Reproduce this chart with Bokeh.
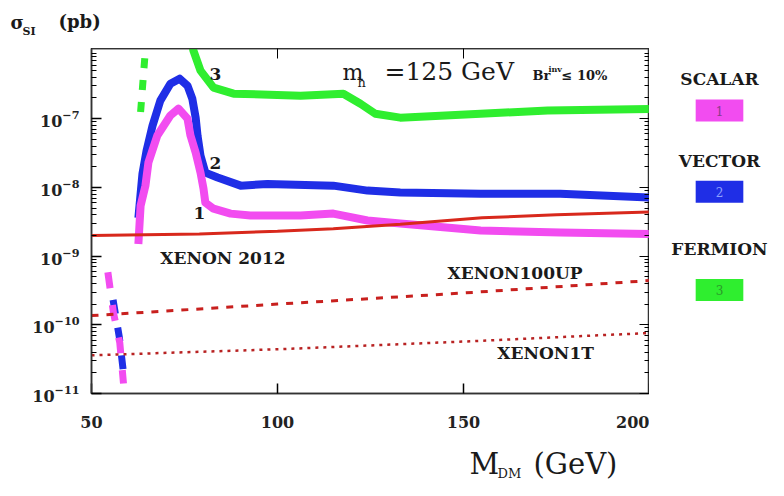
from bokeh.plotting import figure
from bokeh.models import (Range1d, FixedTicker, LinearAxis, LogAxis, Label,
                          CustomJSTickFormatter)
from bokeh.layouts import column, row
from bokeh.embed import file_html
from bokeh.resources import INLINE

# ---------------- data ----------------
x_ticks = [50, 100, 150, 200]
y_ticks = [1e-11, 1e-10, 1e-9, 1e-8, 1e-7]

scalar_mass = [62.6, 63.2, 64.5, 65.3, 67.7, 71.2, 73.4, 75.8, 76.6, 78.0, 79.3,
               80.1, 80.6, 82.8, 87.4, 92.7, 106.2, 115.0, 124.2, 133.0, 154.6, 176.0, 200.0]
scalar_sigma = [1.5e-9, 5.4e-9, 1.06e-8, 2.3e-8, 5.7e-8, 1.11e-7, 1.40e-7, 1.0e-7, 5.7e-8,
                3.2e-8, 1.64e-8, 9.6e-9, 6.0e-9, 4.9e-9, 4.15e-9, 3.9e-9, 3.9e-9, 4.15e-9,
                3.3e-9, 2.97e-9, 2.35e-9, 2.2e-9, 2.1e-9]
scalar_low_mass = [54.4, 55.9, 57.6, 58.6]
scalar_low_sigma = [5.8e-10, 1.5e-10, 5.5e-11, 1.4e-11]

vector_mass = [62.6, 63.7, 64.8, 66.4, 68.5, 71.2, 73.7, 75.8, 77.1, 78.0, 78.5, 79.3,
               80.6, 83.9, 90.1, 97.3, 115.0, 124.2, 133.0, 154.6, 176.0, 200.0]
vector_sigma = [3.6e-9, 1.58e-8, 3.43e-8, 7.9e-8, 1.83e-7, 3.23e-7, 3.82e-7, 3.02e-7,
                1.95e-7, 1.03e-7, 5.66e-8, 2.9e-8, 1.64e-8, 1.39e-8, 1.06e-8, 1.12e-8,
                1.06e-8, 8.97e-9, 8.4e-9, 8.1e-9, 8.1e-9, 7.1e-9]
vector_low_mass = [55.8, 57.5, 58.8]
vector_low_sigma = [2.3e-10, 6.5e-11, 1.6e-11]

fermion_mass = [76.6, 77.4, 79.3, 82.8, 88.2, 106.2, 117.7, 122.3, 126.3, 133.0,
                154.6, 172.6, 200.0]
fermion_sigma = [1.6e-6, 9.75e-7, 5.0e-7, 2.83e-7, 2.31e-7, 2.16e-7, 2.31e-7, 1.65e-7,
                 1.18e-7, 1.035e-7, 1.18e-7, 1.31e-7, 1.38e-7]
fermion_res_mass = [63.2, 64.6]
fermion_res_sigma = [1.25e-7, 1.2e-6]

xenon2012_mass = [50, 79, 100, 115, 133, 155, 175, 200]
xenon2012_sigma = [1.99e-9, 2.1e-9, 2.3e-9, 2.5e-9, 2.9e-9, 3.6e-9, 4.0e-9, 4.4e-9]
xenon100up_mass = [50, 100, 150, 200]
xenon100up_sigma = [1.36e-10, 2.0e-10, 2.9e-10, 4.4e-10]
xenon1t_mass = [50, 100, 150, 200]
xenon1t_sigma = [3.6e-11, 4.4e-11, 5.7e-11, 7.6e-11]

legend_names = ["SCALAR", "VECTOR", "FERMION"]
legend_numbers = ["1", "2", "3"]

# ---------------- styling ----------------
MAGENTA = "#f24cf0"
BLUE = "#1f2ee6"
GREEN = "#2fee2f"
RED = "#d8281c"
FONT = "DejaVu Serif"
INK = "#1a1a1a"

# ---------------- main plot ----------------
p = figure(frame_width=558, frame_height=345, output_backend="svg", toolbar_location=None,
           x_range=Range1d(50, 200), y_range=Range1d(1e-11, 1.05e-6),
           y_axis_type="log", title=None,
           min_border_left=91, min_border_right=0, min_border_top=0,
           min_border_bottom=55)
p.grid.visible = False
p.outline_line_color = "#333333"
p.outline_line_width = 1.5

minor_y = [m * 10.0 ** e for e in range(-11, -6) for m in range(2, 10)]

p.xaxis.ticker = FixedTicker(ticks=x_ticks, minor_ticks=[])
p.yaxis.ticker = FixedTicker(ticks=y_ticks, minor_ticks=minor_y)

for ax in (p.xaxis[0], p.yaxis[0]):
    ax.axis_line_color = "#333333"
    ax.axis_line_width = 1.5
    ax.major_tick_in = 10
    ax.major_tick_out = 0
    ax.minor_tick_in = 5
    ax.minor_tick_out = 0
    ax.major_tick_line_width = 1.5
    ax.major_label_text_font = FONT
    ax.major_label_text_font_style = "bold"
    ax.major_label_text_color = "#222222"
p.xaxis.major_label_text_font_size = "16px"
p.xaxis.major_label_standoff = 22
p.yaxis.major_label_text_font_size = "16px"
p.yaxis.major_label_standoff = 12

blank = CustomJSTickFormatter(code="return ''")
top_ax = LinearAxis(ticker=FixedTicker(ticks=x_ticks, minor_ticks=[]), formatter=blank,
                    major_tick_in=10, major_tick_out=0, minor_tick_out=0,
                    major_label_standoff=0, axis_line_color="#333333", axis_line_width=1.5)
right_ax = LogAxis(ticker=FixedTicker(ticks=y_ticks, minor_ticks=minor_y), formatter=blank,
                   major_tick_in=10, major_tick_out=0, minor_tick_in=5, minor_tick_out=0,
                   major_label_standoff=0, axis_line_color="#333333", axis_line_width=1.5)
p.add_layout(top_ax, "above")
p.add_layout(right_ax, "right")

# curves
p.line(fermion_res_mass, fermion_res_sigma, color=GREEN, line_width=7, line_dash="10 12")
p.line(fermion_mass, fermion_sigma, color=GREEN, line_width=8, line_join="round")
p.line(vector_low_mass, vector_low_sigma, color=BLUE, line_width=7, line_dash="14 14")
p.line(vector_mass, vector_sigma, color=BLUE, line_width=8, line_join="round")
p.line(scalar_low_mass, scalar_low_sigma, color=MAGENTA, line_width=7, line_dash="16 17")
p.line(scalar_mass, scalar_sigma, color=MAGENTA, line_width=8, line_join="round")

p.line(xenon2012_mass, xenon2012_sigma, color=RED, line_width=3)
p.line(xenon100up_mass, xenon100up_sigma, color="#c8201e", line_width=3, line_dash="7 8")
p.line(xenon1t_mass, xenon1t_sigma, color="#b82222", line_width=2.5, line_dash="3 5")


def dlab(fig, text, x, y, size, align="left", bold=True, color=INK, **kw):
    fig.add_layout(Label(x=x, y=y, text=text, text_font=FONT, text_font_size=f"{size}px",
                         text_font_style="bold" if bold else "normal", text_align=align,
                         text_baseline="middle", text_color=color, **kw))


# in-plot labels (data coordinates)
dlab(p, "3", 83.3, 4.4e-7, 17, "center")
dlab(p, "2", 83.3, 2.3e-8, 17, "center")
dlab(p, "1", 79.0, 4.3e-9, 17, "center")
dlab(p, "XENON 2012", 68.5, 9.5e-10, 17)
dlab(p, "XENON100UP", 145.7, 5.6e-10, 17)
dlab(p, "XENON1T", 159.1, 3.95e-11, 17)


# frame-relative screen labels inside the plot frame
def slab(text, X, Y, size, align="left", bold=False):
    p.add_layout(Label(x=X - 91, y=393 - Y, x_units="screen", y_units="screen",
                       text=text, text_font=FONT, text_font_size=f"{size}px",
                       text_font_style="bold" if bold else "normal", text_align=align,
                       text_baseline="middle", text_color=INK))


slab("m", 342, 72, 22)
slab("h", 357, 82, 13)
slab("=125 GeV", 384, 71, 25)
slab("Br", 532, 75, 13, bold=True)
slab("inv", 548, 68, 8, bold=True)
slab("≤ 10%", 561, 75, 13, bold=True)


# ---------------- decoration panels (axis titles, legend) ----------------
def deco(w, h, x0, y0):
    f = figure(width=w, height=h, x_range=Range1d(x0, x0 + w), y_range=Range1d(y0 + h, y0),
               x_axis_location=None, y_axis_location=None, toolbar_location=None,
               output_backend="svg", min_border=0, title=None)
    f.grid.visible = False
    f.outline_line_color = None
    return f


top = deco(768, 48, 0, 0)
dlab(top, "σ", 10, 22, 18)
dlab(top, "SI", 22, 31, 11)
dlab(top, "(pb)", 58, 21, 18)

leg = deco(119, 400, 649, 48)
legend_colors = [MAGENTA, BLUE, GREEN]
legend_num_colors = ["#8a3a8a", "#8fa0ff", "#2a9a2a"]
name_y = [83, 178, 280]
box_y = [120, 214, 328]
for name, num, col, ncol, ny, by in zip(legend_names, legend_numbers, legend_colors,
                                        legend_num_colors, name_y, box_y):
    dlab(leg, name, 719, ny, 17, "center")
    dlab(leg, num, 719, by, 12, "center", bold=False, color=ncol,
         background_fill_color=col, padding=(20, 6))

bottom = deco(768, 32, 0, 448)
dlab(bottom, "M", 469, 463, 29, bold=False)
dlab(bottom, "DM", 497, 473, 13, bold=False)
dlab(bottom, "(GeV)", 533, 463, 29, bold=False)

layout = column(top, row(p, leg), bottom)
open("out.html", "w").write(file_html(layout, INLINE))
